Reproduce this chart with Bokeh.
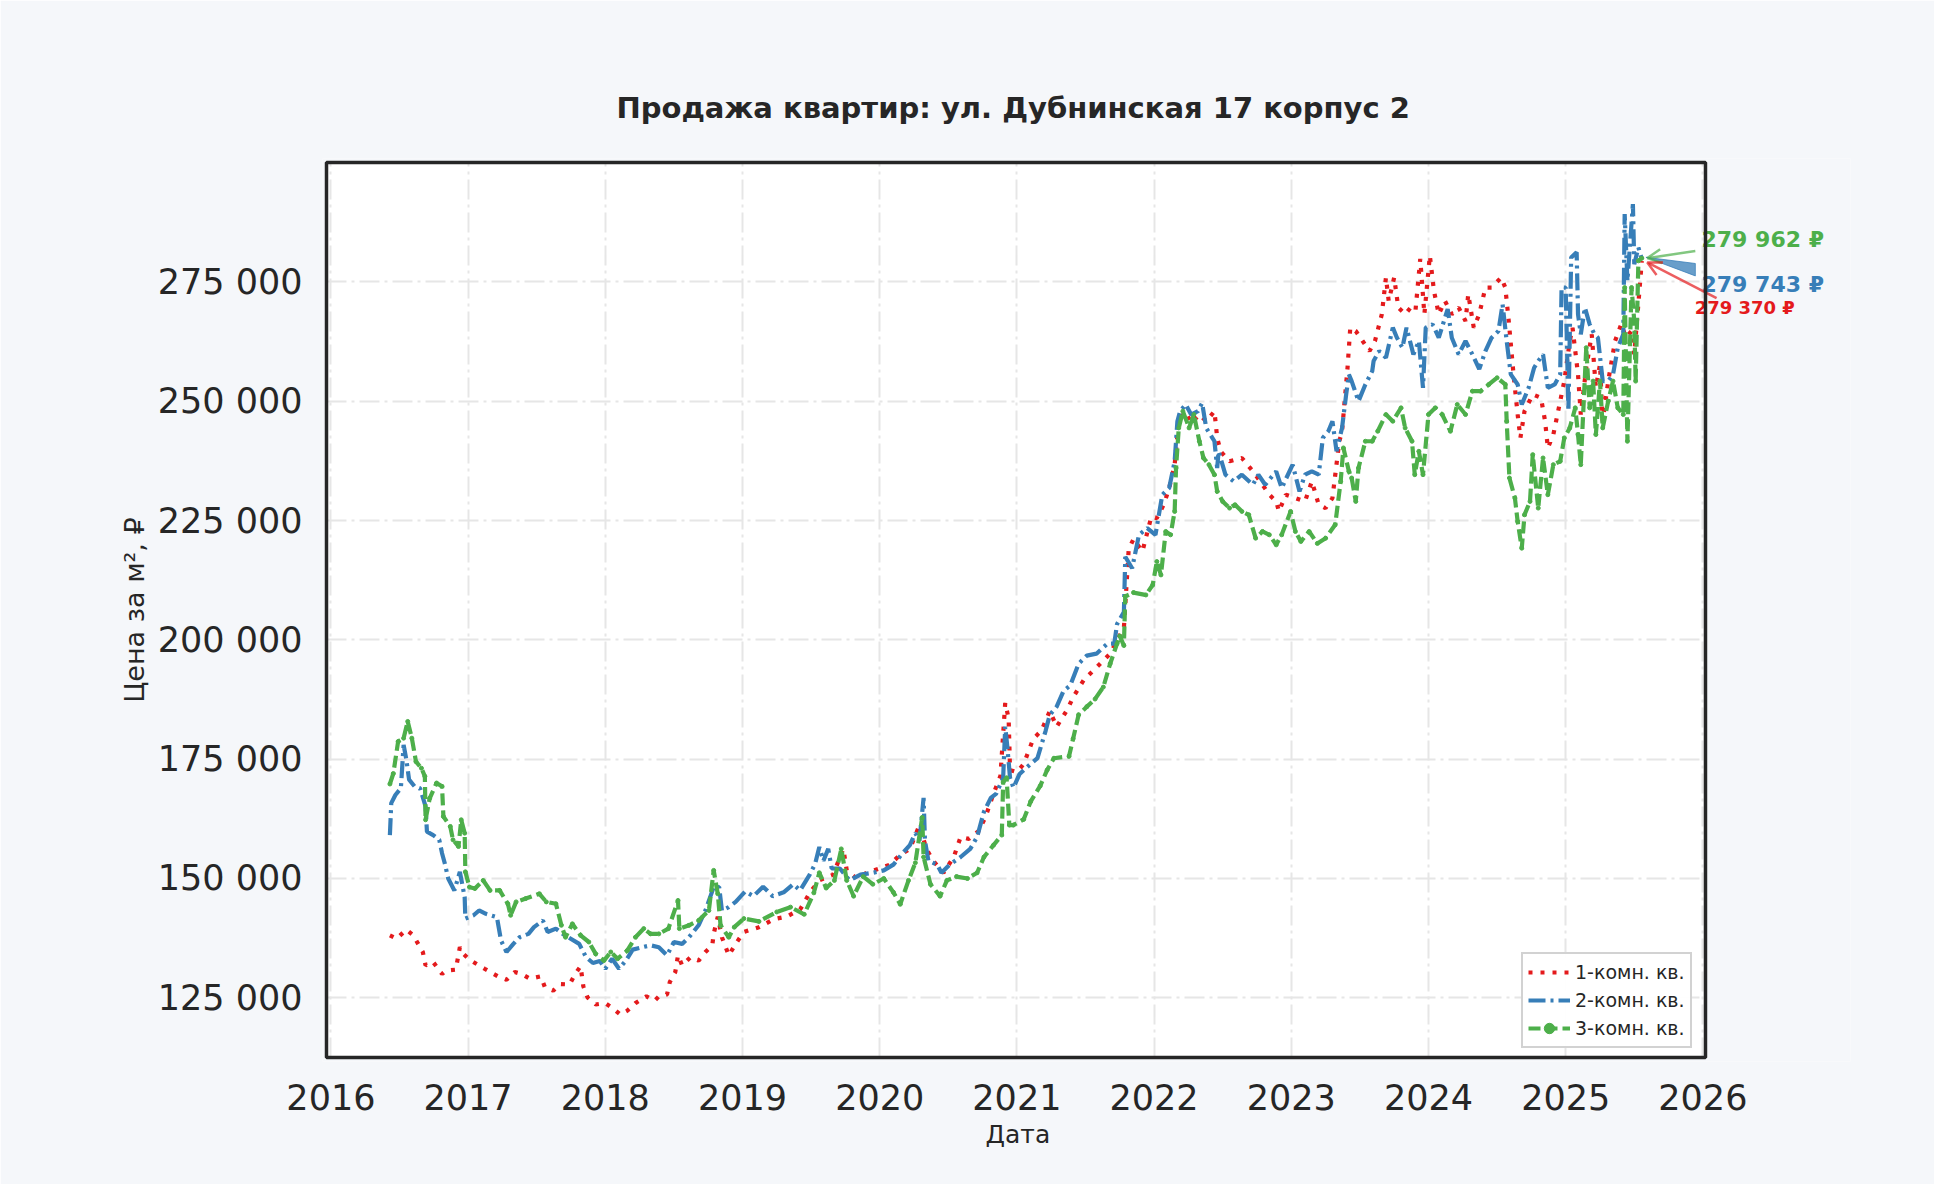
from bokeh.plotting import figure
from bokeh.models import (
    ColumnDataSource, FixedTicker, Label, Arrow, OpenHead, BoxAnnotation, Grid,
    Title,
)
from bokeh.embed import file_html
from bokeh.resources import INLINE

# Decimal-year dates and price per m2
one_room_x = [
    2016.43, 2016.48, 2016.55, 2016.60, 2016.67, 2016.69, 2016.745, 2016.81, 2016.84, 2016.91,
    2016.94, 2016.96, 2017.01, 2017.12, 2017.23, 2017.28, 2017.34, 2017.39, 2017.45, 2017.53,
    2017.56, 2017.62, 2017.67, 2017.74, 2017.78, 2017.82, 2017.84, 2017.87, 2017.93, 2018.00,
    2018.06, 2018.11, 2018.16, 2018.22, 2018.30, 2018.36, 2018.39, 2018.45, 2018.47, 2018.51,
    2018.53, 2018.56, 2018.62, 2018.68, 2018.73, 2018.78, 2018.79, 2018.82, 2018.85, 2018.90,
    2018.95, 2019.01, 2019.12, 2019.23, 2019.32, 2019.42, 2019.49, 2019.56, 2019.66, 2019.735,
    2019.76, 2019.83, 2019.905, 2020.00, 2020.075, 2020.15, 2020.22, 2020.29, 2020.34, 2020.39,
    2020.465, 2020.54, 2020.59, 2020.65, 2020.72, 2020.77, 2020.83, 2020.88, 2020.915, 2020.94,
    2020.95, 2021.00, 2021.05, 2021.12, 2021.18, 2021.24, 2021.29, 2021.37, 2021.41, 2021.49,
    2021.58, 2021.68, 2021.74, 2021.78, 2021.815, 2021.85, 2021.915, 2021.98, 2022.02, 2022.07,
    2022.11, 2022.15, 2022.18, 2022.23, 2022.27, 2022.33, 2022.38, 2022.44, 2022.46, 2022.485,
    2022.55, 2022.64, 2022.72, 2022.79, 2022.84, 2022.89, 2022.91, 2022.96, 2023.03, 2023.10,
    2023.15, 2023.20, 2023.25, 2023.30, 2023.35, 2023.37, 2023.41, 2023.43, 2023.47, 2023.52,
    2023.57, 2023.61, 2023.66, 2023.69, 2023.71, 2023.75, 2023.78, 2023.83, 2023.87, 2023.905,
    2023.94, 2023.97, 2024.01, 2024.04, 2024.075, 2024.12, 2024.17, 2024.22, 2024.27, 2024.29,
    2024.33, 2024.37, 2024.415, 2024.46, 2024.53, 2024.56, 2024.585, 2024.62, 2024.65, 2024.67,
    2024.70, 2024.76, 2024.82, 2024.85, 2024.87, 2024.91, 2024.94, 2024.99, 2025.03, 2025.05,
    2025.09, 2025.11, 2025.15, 2025.19, 2025.22, 2025.25, 2025.27, 2025.31, 2025.36, 2025.405,
    2025.44, 2025.48, 2025.50, 2025.555,
]
one_room_y = [
    138100, 137400, 139300, 138100, 134600, 131800, 132500, 130000, 130700, 130900,
    135600, 134400, 133000, 131100, 129300, 128800, 130400, 130000, 129000, 129500,
    127200, 126500, 127900, 127800, 130000, 131600, 127400, 125100, 123600, 123900,
    122700, 121500, 122300, 123900, 125300, 124400, 125300, 125700, 128300, 130400,
    133900, 131800, 133500, 132800, 134600, 136000, 138400, 142000, 137700, 133900,
    136300, 138800, 139800, 141500, 142000, 143500, 147000, 149600, 150800, 156200,
    151700, 150000, 151200, 152100, 152900, 155000, 156200, 161200, 156200, 153700,
    151200, 154500, 158700, 158300, 159900, 162800, 167800, 171500, 186800, 183500,
    172700, 172300, 174000, 179300, 181000, 185100, 181800, 185500, 188000, 191700,
    194200, 197100, 200400, 202500, 219000, 221100, 218500, 225800, 225500, 228300,
    231800, 236700, 245800, 247900, 245400, 247200, 245800, 247900, 242300, 239500,
    237400, 238100, 235300, 232500, 230400, 229000, 226900, 230400, 229700, 229000,
    233200, 228300, 227600, 229700, 241600, 243700, 257000, 265400, 264700, 262600,
    260500, 262600, 268200, 275900, 271000, 275900, 269600, 268200, 269600, 268900,
    279800, 268200, 280500, 273100, 268200, 271000, 268200, 269600, 266800, 272400,
    265400, 268200, 273800, 273800, 275900, 273800, 266800, 255600, 247200, 242300,
    247900, 251400, 250700, 245800, 240200, 243000, 247200, 254200, 262600, 265400,
    255600, 247200, 257000, 264000, 252800, 257700, 245800, 254200, 262600, 266100,
    263300, 264700, 259800, 279370,
]

two_room_x = [
    2016.43, 2016.44, 2016.47, 2016.51, 2016.53, 2016.55, 2016.57, 2016.61, 2016.65, 2016.69,
    2016.70, 2016.745, 2016.79, 2016.81, 2016.83, 2016.855, 2016.90, 2016.94, 2016.975, 2016.98,
    2017.04, 2017.08, 2017.13, 2017.21, 2017.24, 2017.28, 2017.33, 2017.375, 2017.44, 2017.48,
    2017.545, 2017.58, 2017.64, 2017.69, 2017.81, 2017.86, 2017.91, 2017.96, 2018.00, 2018.05,
    2018.10, 2018.15, 2018.20, 2018.27, 2018.33, 2018.39, 2018.45, 2018.50, 2018.56, 2018.61,
    2018.68, 2018.73, 2018.79, 2018.83, 2018.85, 2018.90, 2018.95, 2019.02, 2019.08, 2019.15,
    2019.22, 2019.30, 2019.37, 2019.42, 2019.49, 2019.53, 2019.56, 2019.59, 2019.625, 2019.65,
    2019.71, 2019.78, 2019.86, 2019.95, 2020.03, 2020.10, 2020.17, 2020.22, 2020.26, 2020.29,
    2020.32, 2020.33, 2020.355, 2020.42, 2020.45, 2020.51, 2020.59, 2020.66, 2020.71, 2020.76,
    2020.81, 2020.85, 2020.90, 2020.915, 2020.93, 2020.95, 2020.975, 2021.02, 2021.10, 2021.15,
    2021.21, 2021.24, 2021.29, 2021.34, 2021.39, 2021.45, 2021.51, 2021.58, 2021.66, 2021.71,
    2021.73, 2021.78, 2021.79, 2021.84, 2021.89, 2021.95, 2022.01, 2022.06, 2022.11, 2022.15,
    2022.17, 2022.19, 2022.23, 2022.27, 2022.32, 2022.35, 2022.38, 2022.44, 2022.46, 2022.47,
    2022.52, 2022.58, 2022.64, 2022.72, 2022.76, 2022.81, 2022.89, 2022.93, 2023.01, 2023.06,
    2023.10, 2023.15, 2023.20, 2023.23, 2023.27, 2023.30, 2023.33, 2023.37, 2023.40, 2023.42,
    2023.44, 2023.49, 2023.54, 2023.59, 2023.60, 2023.64, 2023.69, 2023.74, 2023.77, 2023.81,
    2023.84, 2023.89, 2023.93, 2023.96, 2023.98, 2024.03, 2024.075, 2024.14, 2024.17, 2024.22,
    2024.27, 2024.32, 2024.37, 2024.415, 2024.46, 2024.51, 2024.54, 2024.57, 2024.60, 2024.65,
    2024.68, 2024.73, 2024.77, 2024.80, 2024.835, 2024.87, 2024.92, 2024.96, 2024.97, 2025.00,
    2025.02, 2025.04, 2025.08, 2025.09, 2025.11, 2025.14, 2025.175, 2025.21, 2025.235, 2025.27,
    2025.31, 2025.345, 2025.38, 2025.42, 2025.43, 2025.45, 2025.49, 2025.50, 2025.53, 2025.555,
]
two_room_y = [
    159100, 165800, 167500, 168900, 178000, 174900, 170700, 169300, 168900, 165100,
    159800, 159100, 158100, 155300, 153200, 150000, 147500, 151400, 146100, 141600,
    142300, 143300, 142600, 141900, 137000, 134600, 136300, 137700, 138400, 139800,
    141200, 138800, 139500, 138400, 136300, 133500, 132300, 132700, 131100, 133200,
    131100, 132800, 135100, 135600, 136000, 135600, 133900, 136700, 136300, 137700,
    140200, 143300, 148200, 148200, 143300, 144000, 145100, 147300, 146300, 148300,
    146300, 147100, 148800, 147500, 150800, 153100, 156600, 153700, 156200, 152100,
    152100, 149600, 150800, 151200, 151700, 152900, 155400, 157000, 159500, 157900,
    166900, 157900, 153700, 152900, 151200, 152900, 154500, 156200, 158700, 164000,
    166900, 167800, 171100, 181800, 177700, 171100, 169000, 171900, 174000, 175200,
    181000, 184300, 186000, 189300, 190500, 195000, 196700, 197100, 199200, 199200,
    203300, 205800, 217400, 215000, 222000, 223400, 222000, 230400, 231800, 237400,
    245800, 247900, 249300, 247200, 247900, 249600, 244400, 241600, 236000, 239500,
    234600, 233200, 234600, 232500, 234600, 232500, 235300, 231800, 236700, 231100,
    234600, 235300, 234600, 242300, 243700, 245800, 239500, 244400, 251400, 255600,
    254200, 250000, 253500, 256300, 258400, 260500, 259100, 265400, 263300, 261200,
    265400, 259800, 262600, 252800, 265400, 266100, 263300, 269300, 263300, 259800,
    262600, 259800, 256700, 260500, 263300, 264700, 270300, 262600, 255600, 253500,
    249300, 252800, 257000, 258400, 259800, 252800, 253500, 255600, 273800, 273800,
    247900, 280100, 281200, 268200, 264000, 269600, 266100, 264000, 263300, 254200,
    254200, 255600, 261200, 264000, 289200, 275200, 291300, 278700, 282200, 279743,
]

three_room_x = [
    2016.43, 2016.455, 2016.49, 2016.53, 2016.56, 2016.59, 2016.62, 2016.66, 2016.685, 2016.69,
    2016.72, 2016.77, 2016.81, 2016.82, 2016.87, 2016.89, 2016.93, 2016.95, 2016.975, 2016.98,
    2017.01, 2017.05, 2017.11, 2017.16, 2017.23, 2017.29, 2017.31, 2017.35, 2017.42, 2017.52,
    2017.57, 2017.64, 2017.68, 2017.71, 2017.76, 2017.82, 2017.88, 2017.93, 2017.99, 2018.04,
    2018.09, 2018.16, 2018.22, 2018.28, 2018.33, 2018.39, 2018.46, 2018.53, 2018.54, 2018.61,
    2018.68, 2018.755, 2018.79, 2018.82, 2018.84, 2018.90, 2018.94, 2019.01, 2019.12, 2019.25,
    2019.35, 2019.45, 2019.52, 2019.56, 2019.61, 2019.67, 2019.72, 2019.76, 2019.81, 2019.88,
    2019.95, 2020.03, 2020.10, 2020.15, 2020.21, 2020.26, 2020.31, 2020.32, 2020.37, 2020.44,
    2020.49, 2020.56, 2020.64, 2020.71, 2020.76, 2020.83, 2020.89, 2020.90, 2020.925, 2020.945,
    2020.975, 2021.05, 2021.10, 2021.17, 2021.22, 2021.27, 2021.38, 2021.41, 2021.45, 2021.51,
    2021.57, 2021.63, 2021.68, 2021.73, 2021.75, 2021.78, 2021.79, 2021.85, 2021.94, 2021.99,
    2022.02, 2022.05, 2022.085, 2022.12, 2022.15, 2022.16, 2022.18, 2022.21, 2022.255, 2022.29,
    2022.33, 2022.36, 2022.40, 2022.44, 2022.46, 2022.50, 2022.55, 2022.59, 2022.64, 2022.69,
    2022.74, 2022.79, 2022.84, 2022.89, 2022.93, 2022.995, 2023.03, 2023.07, 2023.13, 2023.19,
    2023.25, 2023.32, 2023.36, 2023.38, 2023.42, 2023.44, 2023.47, 2023.49, 2023.54, 2023.59,
    2023.63, 2023.69, 2023.74, 2023.80, 2023.83, 2023.88, 2023.90, 2023.93, 2023.96, 2024.00,
    2024.05, 2024.10, 2024.16, 2024.21, 2024.27, 2024.32, 2024.38, 2024.44, 2024.50, 2024.56,
    2024.57, 2024.59, 2024.63, 2024.65, 2024.68, 2024.70, 2024.74, 2024.76, 2024.80, 2024.835,
    2024.87, 2024.91, 2024.96, 2024.99, 2025.03, 2025.07, 2025.09, 2025.11, 2025.15, 2025.175,
    2025.20, 2025.22, 2025.25, 2025.27, 2025.31, 2025.345, 2025.38, 2025.42, 2025.43, 2025.45,
    2025.48, 2025.50, 2025.51, 2025.53, 2025.555,
]
three_room_y = [
    169800, 172000, 178700, 179400, 182900, 179400, 174500, 173100, 171400, 162300,
    166800, 170000, 169300, 163000, 160900, 158100, 156700, 162300, 159500, 151400,
    148200, 147900, 149600, 147500, 147500, 144700, 142300, 145100, 145800, 146800,
    145100, 144700, 140200, 137700, 140500, 138100, 136700, 134200, 132800, 134600,
    133200, 134900, 137700, 139500, 138400, 138400, 139500, 145400, 139500, 140200,
    141200, 143300, 151700, 146800, 140200, 137700, 139800, 141600, 141000, 143000,
    144000, 142500, 147000, 151200, 148000, 149600, 156200, 149600, 146300, 150400,
    148800, 150000, 147100, 144600, 149600, 153300, 162800, 154500, 148800, 146300,
    149600, 150400, 150000, 151200, 154500, 157000, 159100, 170200, 171100, 161200,
    161200, 162400, 166100, 169400, 172700, 175200, 175600, 179300, 184300, 186000,
    187600, 190100, 195000, 199200, 200800, 198800, 209100, 209900, 209400, 211500,
    216400, 213600, 222700, 222000, 226900, 236000, 244400, 247900, 244400, 247200,
    241600, 238100, 236700, 234600, 231100, 229000, 227600, 228300, 226900, 226200,
    221300, 222700, 222000, 219900, 222000, 226900, 222700, 220600, 222700, 220200,
    221300, 224100, 233200, 240200, 235300, 233900, 229000, 236000, 241600, 241600,
    243700, 247200, 245800, 248600, 244400, 241600, 234600, 239500, 234600, 247200,
    248600, 247200, 243700, 249300, 247200, 252100, 252100, 253500, 254900, 253500,
    245800, 233900, 229700, 224800, 219200, 226200, 229000, 238800, 227600, 238100,
    230400, 236700, 237400, 242300, 244400, 248600, 243000, 236700, 261200, 248600,
    254200, 243000, 254200, 244400, 250000, 254200, 248600, 247200, 273800, 241600,
    273800, 266800, 254200, 279400, 279962,
]

series_labels = ["1-комн. кв.", "2-комн. кв.", "3-комн. кв."]
series_colors = ["#e41a1c", "#377eb8", "#4daf4a"]

year_ticks = list(range(2016, 2027))
price_ticks = [125000, 150000, 175000, 200000, 225000, 250000, 275000]

# visible plot area (data units); the frame is a little bigger on every side
# (and much wider on the right) so the border and the end labels are not clipped
X_MIN, X_MAX = 2015.968, 2026.019
Y_MIN, Y_MAX = 112500, 300000
X_PAD, Y_PAD = 0.0292, 838
X_FRAME_MAX = 2027.076


def fmt_rub(v):
    return f"{v:,.0f}".replace(",", " ")


FONT = "DejaVu Sans"
TEXT_COLOR = "#262626"
PAGE_BG = "#f5f7fa"

p = figure(
    title="Продажа квартир: ул. Дубнинская 17 корпус 2",
    frame_width=1528, frame_height=903,
    min_border_left=322, min_border_right=84,
    min_border_top=158, min_border_bottom=123,
    x_range=(X_MIN - X_PAD, X_FRAME_MAX),
    y_range=(Y_MIN - Y_PAD, Y_MAX + Y_PAD),
    y_axis_label="Цена за м², ₽",
    output_backend="svg", toolbar_location=None,
    background_fill_color=PAGE_BG, border_fill_color=PAGE_BG,
    outline_line_color=None,
)

# white plot area and dark frame
p.add_layout(BoxAnnotation(left=X_MIN, right=X_MAX, bottom=Y_MIN, top=Y_MAX,
                           fill_color="white", fill_alpha=1, line_color=None,
                           level="image"))
p.add_layout(BoxAnnotation(left=X_MIN, right=X_MAX, bottom=Y_MIN, top=Y_MAX,
                           fill_alpha=0, line_color="#262626", line_alpha=1,
                           line_width=3.5, level="overlay"))

p.title.align = "left"
p.title.offset = 294
p.title.text_font = FONT
p.title.text_font_size = "29px"
p.title.text_font_style = "bold"
p.title.text_color = TEXT_COLOR
p.title.standoff = 67

for ax in (p.xaxis, p.yaxis):
    ax.axis_line_color = None
    ax.major_tick_line_color = None
    ax.minor_tick_line_color = None
    ax.major_label_text_font = FONT
    ax.major_label_text_font_size = "35px"
    ax.major_label_text_color = TEXT_COLOR
    ax.axis_label_text_font = FONT
    ax.axis_label_text_font_style = "normal"
    ax.axis_label_text_color = TEXT_COLOR

p.xaxis.ticker = FixedTicker(ticks=year_ticks)
p.xaxis.major_label_standoff = 16
p.yaxis.ticker = FixedTicker(ticks=price_ticks)
p.yaxis.major_label_overrides = {t: fmt_rub(t) for t in price_ticks}
p.yaxis.major_label_standoff = 14
p.yaxis.axis_label_standoff = 5
p.yaxis.axis_label_text_font_size = "27px"

# x-axis label centred under the visible plot area, not the wider frame
p.add_layout(Title(text="Дата", align="left", offset=663, standoff=10,
                   text_font=FONT, text_font_size="25px",
                   text_font_style="normal", text_color=TEXT_COLOR), "below")

p.xgrid.ticker = FixedTicker(ticks=year_ticks)
p.ygrid.ticker = FixedTicker(ticks=price_ticks)
if "cross_bounds" in Grid.properties():
    p.ygrid.cross_bounds = (X_MIN, X_MAX)
    p.xgrid.cross_bounds = (Y_MIN, Y_MAX)
for g in (p.xgrid, p.ygrid):
    g.grid_line_color = "#e6e6e6"
    g.grid_line_width = 2
    g.grid_line_dash = "20 5 3 5"

src1 = ColumnDataSource(data=dict(x=one_room_x, y=one_room_y))
src2 = ColumnDataSource(data=dict(x=two_room_x, y=two_room_y))
src3 = ColumnDataSource(data=dict(x=three_room_x, y=three_room_y))

p.line("x", "y", source=src1, color=series_colors[0], line_width=4.2,
       line_dash="4 8", legend_label=series_labels[0])
p.line("x", "y", source=src2, color=series_colors[1], line_width=4.2,
       line_dash="17 5 3 5", legend_label=series_labels[1])
p.line("x", "y", source=src3, color=series_colors[2], line_width=4.2,
       line_dash="12 5", legend_label=series_labels[2])
p.scatter("x", "y", source=src3, size=4, color=series_colors[2],
          legend_label=series_labels[2])

# Last-value annotations with arrows pointing at the final points
end_x = three_room_x[-1]
ends = [
    # (series index, text dx, text dy, size, arrow tail dx, arrow tail dy)
    (2, 0.435, 3850, "22px", 0.39, 1500),
    (1, 0.435, -5250, "22px", 0.39, -2200),
    (0, 0.385, -9800, "18px", 0.545, -7800),
]
last_vals = [one_room_y[-1], two_room_y[-1], three_room_y[-1]]

for idx, dx, dy, size, tdx, tdy in ends:
    yv = last_vals[idx]
    p.add_layout(Label(
        x=end_x + dx, y=yv + dy, text=f"{fmt_rub(yv)} ₽",
        text_font=FONT, text_font_size=size, text_font_style="bold",
        text_color=series_colors[idx], text_baseline="middle",
    ))
    if idx == 1:
        # wedge-shaped arrow
        p.patch(
            [end_x + 0.03, end_x + tdx, end_x + tdx],
            [yv + 400, yv + tdy + 1300, yv + tdy - 1300],
            color=series_colors[idx], alpha=0.75, line_width=1,
        )
    else:
        p.add_layout(Arrow(
            end=OpenHead(size=14, line_color=series_colors[idx],
                         line_width=2.5, line_alpha=0.7),
            x_start=end_x + tdx, y_start=yv + tdy,
            x_end=end_x + 0.04, y_end=yv - 300 if idx == 0 else yv,
            line_color=series_colors[idx], line_width=2.5, line_alpha=0.7,
        ))

p.legend.location = (1199, 13)
p.legend.margin = 0
p.legend.padding = 5
p.legend.spacing = 2
p.legend.label_height = 26
p.legend.glyph_height = 26
p.legend.glyph_width = 42
p.legend.label_text_font = FONT
p.legend.label_text_font_size = "19px"
p.legend.label_text_color = TEXT_COLOR
p.legend.border_line_color = "#a6a6a6"
p.legend.border_line_width = 2
p.legend.background_fill_color = "white"

open("out.html", "w").write(file_html(p, INLINE))
